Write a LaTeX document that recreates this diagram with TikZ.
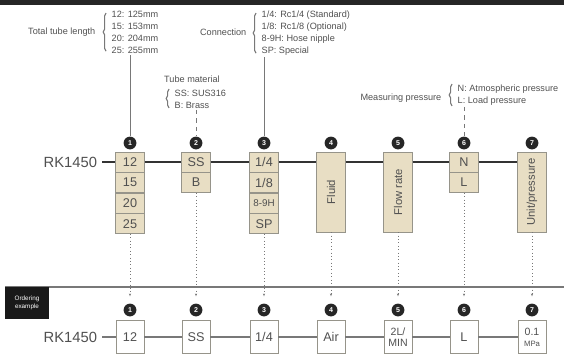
\documentclass[tikz,border=0pt]{standalone}
\usepackage{fontspec}
\setmainfont{Liberation Sans}
\usepackage{graphicx}
\definecolor{cellbeige}{RGB}{232,222,196}
\definecolor{boxgray}{RGB}{150,148,138}
\definecolor{inkgray}{RGB}{80,80,80}
\definecolor{linegray}{RGB}{120,120,120}
\usetikzlibrary{arrows.meta,positioning,decorations.pathreplacing}

\begin{document}
\begin{tikzpicture}[x=0.025cm, y=-0.025cm,
    cell/.style={draw=boxgray, fill=cellbeige, minimum width=0.72cm, minimum height=0.5cm,
                 inner sep=0pt, font=\fontsize{9}{9}\selectfont, text=inkgray},
    tallcell/.style={cell, minimum height=2cm, font=\fontsize{8}{8}\selectfont},
    exbox/.style={draw=boxgray, fill=white, minimum width=0.7cm, minimum height=0.82cm,
                  inner sep=0pt, align=center, font=\fontsize{9}{9}\selectfont, text=inkgray},
    numdot/.style={circle, fill=black!85, minimum size=0.32cm, inner sep=0pt,
                   font=\fontsize{5}{5}\selectfont\bfseries, text=white},
    note/.style={font=\fontsize{6.5}{8.6}\selectfont, text=inkgray, inner sep=1pt},
    opts/.style={note, align=left, anchor=north west},
    bracebar/.style={draw=linegray, thick, decorate, decoration={brace, amplitude=2pt}},
    leadline/.style={draw=linegray, thin},
    rowline/.style={draw=black!80, thick},
    exline/.style={draw=linegray, line width=2pt},
    dropline/.style={draw=linegray, dotted, -{Stealth[length=2pt]}, shorten >=5pt}]
    \useasboundingbox (0,0) rectangle (564,358);
    % header bar
    \fill[black!85] (0,0) rectangle (564,5);

    % Option lists with braces
    \node[note, anchor=east] (lenlabel) at (97,32) {Total tube length};
    \node[opts] (lenopts) at (110,9) {12: 125mm\\15: 153mm\\20: 204mm\\25: 255mm};
    \draw[bracebar] (lenopts.south west) ++(-4,-4) -- ([shift={(-4,4)}]lenopts.north west);

    \node[note] (matlabel) at (192,79) {Tube material};
    \node[opts] (matopts) at (173,88) {SS: SUS316\\B: Brass};
    \draw[bracebar] (matopts.south west) ++(-4,-2) -- ([shift={(-4,1)}]matopts.north west);

    \node[note, anchor=east] (conlabel) at (248,32) {Connection};
    \node[opts] (conopts) at (260,9) {1/4: Rc1/4 (Standard)\\1/8: Rc1/8 (Optional)\\8-9H: Hose nipple\\SP: Special};
    \draw[bracebar] (conopts.south west) ++(-4,-4) -- ([shift={(-4,4)}]conopts.north west);

    \node[note, anchor=east] (preslabel) at (443,98) {Measuring pressure};
    \node[opts] (presopts) at (456,83) {N: Atmospheric pressure\\L: Load pressure};
    \draw[bracebar] (presopts.south west) ++(-4,-1) -- ([shift={(-4,1)}]presopts.north west);

    % Code row
    \node[font=\fontsize{10.5}{10.5}\selectfont, text=inkgray, anchor=east] (rk) at (102,162) {RK1450};
    \node[cell] (len1) at (130,162) {12};
    \node[cell, below=0pt of len1] (len2) {15};
    \node[cell, below=0pt of len2] (len3) {20};
    \node[cell, below=0pt of len3] (len4) {25};
    \node[cell] (mat1) at (196,162) {SS};
    \node[cell, below=0pt of mat1] (mat2) {B};
    \node[cell] (con1) at (264,162) {1/4};
    \node[cell, below=0pt of con1] (con2) {1/8};
    \node[cell, below=0pt of con2, font=\fontsize{7}{7}\selectfont] (con3) {8-9H};
    \node[cell, below=0pt of con3] (con4) {SP};
    \node[tallcell] (fluid) at (331,192) {\rotatebox{90}{Fluid}};
    \node[tallcell] (flow) at (398,192) {\rotatebox{90}{Flow rate}};
    \node[cell] (pres1) at (464,162) {N};
    \node[cell, below=0pt of pres1] (pres2) {L};
    \node[tallcell] (unit) at (532,192) {\rotatebox{90}{Unit/pressure}};

    \draw[rowline] (rk) -- (len1);
    \draw[rowline] (len1) -- (mat1);
    \draw[rowline] (mat1) -- (con1);
    \draw[rowline] (con1) -- (fluid.west |- con1);
    \draw[rowline] (fluid.east |- con1) -- (flow.west |- con1);
    \draw[rowline] (flow.east |- pres1) -- (pres1);
    \draw[rowline] (pres1) -- (unit.west |- pres1);

    % numbers
    \foreach \x [count=\i] in {130,196,264,331,398,464,532} {
      \node[numdot] (n\i) at (\x,143) {\i};
      \node[numdot] (m\i) at (\x,310) {\i};
    }
    \draw[leadline] (lenopts.south -| n1) -- (n1);
    \draw[leadline, dashed] (matopts.south -| n2) -- (n2);
    \draw[leadline] (conopts.south -| n3) -- (n3);
    \draw[leadline, dashed] (presopts.south -| n6) -- (n6);

    % Ordering example
    \draw[draw=linegray, thick] (5,287) -- (564,287);
    \node[fill=black!90, text=white, minimum width=1.1cm, minimum height=0.78cm, align=center,
          inner sep=0pt, font=\fontsize{4.5}{5.5}\selectfont] (exlabel) at (27,303) {Ordering\\example};

    \node[font=\fontsize{10.5}{10.5}\selectfont, text=inkgray, anchor=east] (rkex) at (102,337) {RK1450};
    \node[exbox] (ex1) at (130,337) {12};
    \node[exbox] (ex2) at (196,337) {SS};
    \node[exbox] (ex3) at (264,337) {1/4};
    \node[exbox] (ex4) at (331,337) {Air};
    \node[exbox, font=\fontsize{7.5}{8}\selectfont] (ex5) at (398,337) {2L/\\MIN};
    \node[exbox] (ex6) at (464,337) {L};
    \node[exbox, font=\fontsize{7.5}{8}\selectfont] (ex7) at (532,337) {0.1\\{\fontsize{5.5}{6}\selectfont MPa}};
    \draw[exline] (rkex) -- (ex1);
    \foreach \a/\b in {1/2,2/3,3/4,4/5,5/6,6/7}
      \draw[exline] (ex\a) -- (ex\b);

    % drop lines
    \draw[dropline] (len4) -- (m1);
    \draw[dropline] (mat2) -- (m2);
    \draw[dropline] (con4) -- (m3);
    \draw[dropline] (fluid) -- (m4);
    \draw[dropline] (flow) -- (m5);
    \draw[dropline] (pres2) -- (m6);
    \draw[dropline] (unit) -- (m7);
\end{tikzpicture}
\end{document}
